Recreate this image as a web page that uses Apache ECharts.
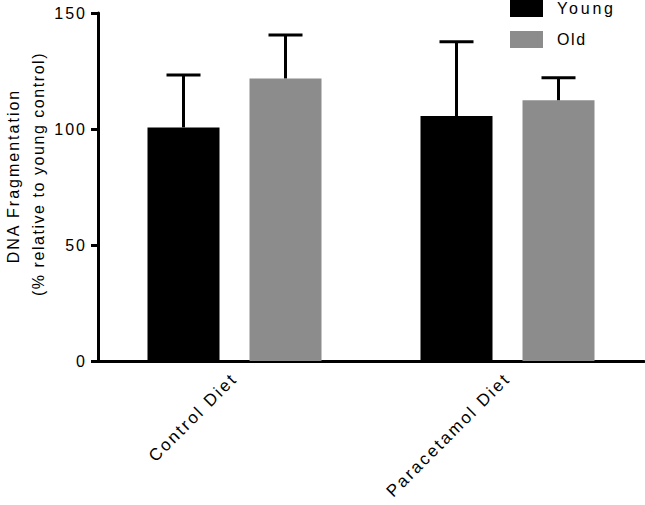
<!DOCTYPE html>
<html><head><meta charset="utf-8">
<script src="https://cdn.jsdelivr.net/npm/echarts@6/dist/echarts.min.js"></script>
<style>html,body{margin:0;padding:0;background:#fff}#c{width:645px;height:505px}#c svg text{letter-spacing:2px}</style>
</head><body><div id="c"></div>
<script>
var categories = ['Control Diet', 'Paracetamol Diet'];
var seriesNames = ['Young', 'Old'];
var youngMean = [100.7, 105.6];
var youngErr = [22.6, 32.0];
var oldMean = [121.8, 112.4];
var oldErr = [18.7, 9.7];
var yTicks = [0, 50, 100, 150];
var yTitle1 = 'DNA Fragmentation';
var yTitle2 = '(% relative to young control)';

var chart = echarts.init(document.getElementById('c'), null, {renderer: 'svg'});
var FONT = 'Liberation Sans, Arial, sans-serif';
var BAR_W = 72, GAP = 30, OFF = (BAR_W + GAP) / 2, CAP = 34;

function errSeries(name, means, errs, sign) {
  return {
    type: 'custom', name: name + ' err', z: 5, silent: true,
    data: means.map(function (m, i) { return [i, m, m + errs[i]]; }),
    renderItem: function (params, api) {
      var lo = api.coord([api.value(0), api.value(1)]);
      var hi = api.coord([api.value(0), api.value(2)]);
      var x = lo[0] + sign * OFF;
      return {
        type: 'group', children: [
          {type: 'line', shape: {x1: x, y1: lo[1], x2: x, y2: hi[1]}, style: {stroke: '#000', lineWidth: 3}},
          {type: 'line', shape: {x1: x - CAP / 2, y1: hi[1], x2: x + CAP / 2, y2: hi[1]}, style: {stroke: '#000', lineWidth: 3}}
        ]
      };
    }
  };
}

chart.setOption({
  animation: false,
  grid: {left: 98, right: 1, top: 13, bottom: 144, containLabel: false},
  legend: {
    orient: 'vertical', left: 510, top: 0, padding: 0,
    itemWidth: 33, itemHeight: 17, itemGap: 14, icon: 'rect',
    data: seriesNames,
    textStyle: {fontFamily: FONT, fontSize: 16, color: '#000', padding: [0, 0, 0, 9]}
  },
  xAxis: {
    type: 'category', data: categories,
    axisLine: {lineStyle: {color: '#000', width: 3}},
    axisTick: {alignWithLabel: true, length: 7, lineStyle: {color: '#000', width: 3}},
    axisLabel: {rotate: 45, margin: 15, fontFamily: FONT, fontSize: 17, color: '#000', interval: 0}
  },
  yAxis: {
    type: 'value', min: 0, max: 150, interval: 50,
    axisLine: {show: true, lineStyle: {color: '#000', width: 3}},
    axisTick: {show: true, length: 7, lineStyle: {color: '#000', width: 3}},
    splitLine: {show: false},
    axisLabel: {margin: 11, fontFamily: FONT, fontSize: 16, color: '#000',
      formatter: function (v) { return yTicks.indexOf(v) >= 0 ? String(v) : ''; }}
  },
  graphic: [
    {type: 'text', x: 13, y: 176, rotation: Math.PI / 2,
      style: {text: yTitle1, font: '16px ' + FONT, fill: '#000', textAlign: 'center', textVerticalAlign: 'middle'}},
    {type: 'text', x: 38, y: 174, rotation: Math.PI / 2,
      style: {text: yTitle2, font: '16px ' + FONT, fill: '#000', textAlign: 'center', textVerticalAlign: 'middle'}}
  ],
  series: [
    {type: 'bar', name: 'Young', data: youngMean, barWidth: BAR_W, barGap: (GAP / BAR_W * 100) + '%', itemStyle: {color: '#000'}},
    {type: 'bar', name: 'Old', data: oldMean, barWidth: BAR_W, itemStyle: {color: '#8c8c8c'}},
    errSeries('Young', youngMean, youngErr, -1),
    errSeries('Old', oldMean, oldErr, 1)
  ]
});

function tweakSpacing() {
  var ts = document.querySelectorAll('#c svg text');
  for (var i = 0; i < ts.length; i++) {
    var t = ts[i].textContent;
    if (t === yTitle2) ts[i].style.letterSpacing = '1.55px';
    else if (t === 'Young') ts[i].style.letterSpacing = '2.8px';
    else if (t === 'Old') ts[i].style.letterSpacing = '1.6px';
    else if (categories.indexOf(t) >= 0) ts[i].style.letterSpacing = '2.3px';
  }
}
tweakSpacing();
chart.on('finished', tweakSpacing);
setTimeout(tweakSpacing, 50);
</script></body></html>
